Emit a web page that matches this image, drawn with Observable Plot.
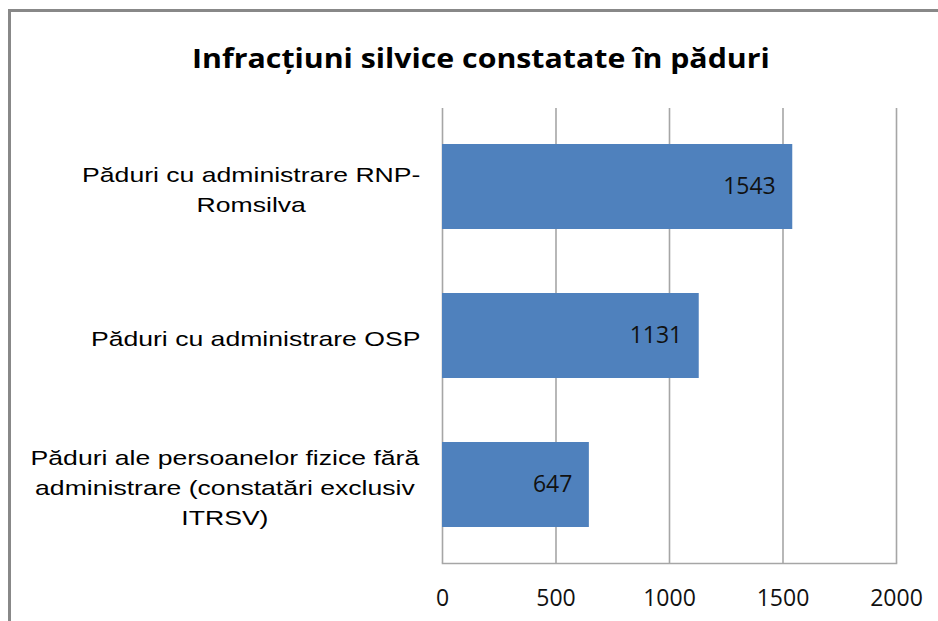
<!DOCTYPE html>
<html><head><meta charset="utf-8">
<script src="https://cdn.jsdelivr.net/npm/d3@7"></script>
<script src="https://cdn.jsdelivr.net/npm/@observablehq/plot@0.6"></script>
<style>
html,body{margin:0;padding:0;background:#fff;}
#wrap{position:relative;width:938px;height:621px;overflow:hidden;background:#fff;}
#frame{position:absolute;left:8px;top:9px;width:960px;height:640px;border-top:3px solid #888;border-left:3px solid #888;box-sizing:border-box;}
#title{position:relative;height:90px;box-sizing:border-box;padding-top:40px;padding-left:24px;line-height:36px;text-align:center;font-family:"Open Sans";font-weight:bold;font-size:26px;color:#000;white-space:nowrap;}
#title span{display:inline-block;transform:scaleX(1.165);transform-origin:center;}
#chart{position:relative;}
#chart svg{display:block;}
</style></head><body>
<div id="wrap"><div id="frame"></div><div id="title"><span>Infracțiuni silvice constatate în păduri</span></div><div id="chart"></div></div>
<script>
const categories = ["RNP-Romsilva", "OSP", "Persoane fizice"];
const labels = [
  "Păduri cu administrare RNP-\nRomsilva",
  "Păduri cu administrare OSP",
  "Păduri ale persoanelor fizice fără\nadministrare (constatări exclusiv\nITRSV)"
];
const values = [1543, 1131, 647];
const xTicks = [0, 500, 1000, 1500, 2000];

const data = categories.map((c, i) => ({category: c, label: labels[i], value: values[i]}));

const chart = Plot.plot({
  width: 938,
  height: 531,
  marginTop: 18,
  marginBottom: 58,
  marginLeft: 442,
  marginRight: 42,
  style: {background: "transparent", fontFamily: "Open Sans", color: "#111"},
  x: {domain: [0, 2000], ticks: xTicks},
  y: {domain: categories, paddingInner: 0.43, paddingOuter: 0.233, axis: null},
  marks: [
    Plot.ruleX(xTicks, {stroke: "#a6a6a6", strokeWidth: 1.6}),
    Plot.frame({anchor: "bottom", stroke: "#a6a6a6", strokeWidth: 1.6}),
    Plot.barX(data, {x: "value", y: "category", fill: "#4F81BD"}),
    Plot.text(data, {x: "value", y: "category", text: d => String(d.value), textAnchor: "end", dx: -17, fontSize: 23, fontFamily: "Open Sans", fill: "#111"}),
    Plot.axisX(xTicks, {tickSize: 0, tickPadding: 26, tickFormat: d => String(d), fontSize: 23, fontFamily: "Open Sans", fill: "#111", label: null}),
    Plot.text(data, {x: () => 0, y: "category", text: "label", textAnchor: "middle", lineHeight: 1.5, fontSize: 20, fontFamily: "Liberation Sans", fill: "#000", ariaLabel: () => "category label"})
  ]
});
document.getElementById("chart").appendChild(chart);

// Excel-style wrapped category labels: lines centered in a block right-aligned to the axis
const x0 = chart.scale("x").apply(0);
const stretch = 1.33, gap = 22;
chart.querySelectorAll('text[aria-label="category label"]').forEach(el => {
  const bb = el.getBBox();
  const m = /translate\(([^,\s]+)[,\s]+([^)]+)\)/.exec(el.getAttribute("transform") || "");
  const ty = m ? +m[2] : 0;
  const cxL = bb.x + bb.width / 2;
  const cx = x0 - gap - bb.width * stretch / 2;
  el.setAttribute("transform", `translate(${cx},${ty}) scale(${stretch},1) translate(${-cxL},0)`);
});
</script>
</body></html>
